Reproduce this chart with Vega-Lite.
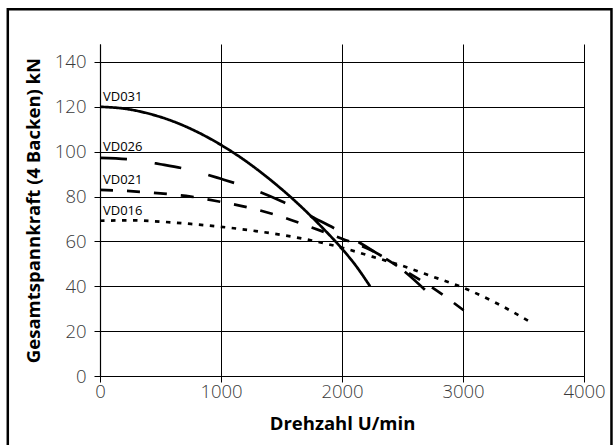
{
  "$schema": "https://vega.github.io/schema/vega-lite/v6.json",
  "width": 484,
  "height": 332,
  "autosize": {"type": "none"},
  "padding": {"left": 100, "top": 44, "right": 31, "bottom": 69},
  "background": "white",
  "config": {"view": {"stroke": null}, "font": "Open Sans"},
  "datasets": {
    "curves": [
      {"series": "VD031", "rpm": 0, "kN": 120},
      {"series": "VD031", "rpm": 200, "kN": 119.2},
      {"series": "VD031", "rpm": 400, "kN": 117},
      {"series": "VD031", "rpm": 600, "kN": 113.6},
      {"series": "VD031", "rpm": 800, "kN": 108.9},
      {"series": "VD031", "rpm": 1000, "kN": 103},
      {"series": "VD031", "rpm": 1200, "kN": 96},
      {"series": "VD031", "rpm": 1400, "kN": 87.8},
      {"series": "VD031", "rpm": 1600, "kN": 78.6},
      {"series": "VD031", "rpm": 1800, "kN": 68.2},
      {"series": "VD031", "rpm": 2000, "kN": 56.7},
      {"series": "VD031", "rpm": 2100, "kN": 50.2},
      {"series": "VD031", "rpm": 2232, "kN": 40},
      {"series": "VD026", "rpm": 0, "kN": 97.2},
      {"series": "VD026", "rpm": 250, "kN": 96.5},
      {"series": "VD026", "rpm": 500, "kN": 94.4},
      {"series": "VD026", "rpm": 750, "kN": 91.8},
      {"series": "VD026", "rpm": 1000, "kN": 87.9},
      {"series": "VD026", "rpm": 1250, "kN": 83.5},
      {"series": "VD026", "rpm": 1500, "kN": 77.9},
      {"series": "VD026", "rpm": 1750, "kN": 71},
      {"series": "VD026", "rpm": 2000, "kN": 64},
      {"series": "VD026", "rpm": 2250, "kN": 56},
      {"series": "VD026", "rpm": 2500, "kN": 47.3},
      {"series": "VD026", "rpm": 2732, "kN": 36},
      {"series": "VD021", "rpm": 0, "kN": 83},
      {"series": "VD021", "rpm": 250, "kN": 82.4},
      {"series": "VD021", "rpm": 500, "kN": 81.4},
      {"series": "VD021", "rpm": 750, "kN": 80},
      {"series": "VD021", "rpm": 1000, "kN": 77.6},
      {"series": "VD021", "rpm": 1250, "kN": 74.8},
      {"series": "VD021", "rpm": 1500, "kN": 71},
      {"series": "VD021", "rpm": 1750, "kN": 66.2},
      {"series": "VD021", "rpm": 2000, "kN": 61.2},
      {"series": "VD021", "rpm": 2250, "kN": 55.8},
      {"series": "VD021", "rpm": 2500, "kN": 47.6},
      {"series": "VD021", "rpm": 2750, "kN": 39.3},
      {"series": "VD021", "rpm": 3005, "kN": 29.3},
      {"series": "VD016", "rpm": 0, "kN": 69.2},
      {"series": "VD016", "rpm": 250, "kN": 69.4},
      {"series": "VD016", "rpm": 500, "kN": 68.8},
      {"series": "VD016", "rpm": 750, "kN": 67.8},
      {"series": "VD016", "rpm": 1000, "kN": 66.5},
      {"series": "VD016", "rpm": 1250, "kN": 64.9},
      {"series": "VD016", "rpm": 1500, "kN": 62.9},
      {"series": "VD016", "rpm": 1750, "kN": 60.4},
      {"series": "VD016", "rpm": 2000, "kN": 57.2},
      {"series": "VD016", "rpm": 2250, "kN": 53.2},
      {"series": "VD016", "rpm": 2500, "kN": 49.1},
      {"series": "VD016", "rpm": 2750, "kN": 44.3},
      {"series": "VD016", "rpm": 3000, "kN": 39.4},
      {"series": "VD016", "rpm": 3250, "kN": 33.2},
      {"series": "VD016", "rpm": 3560, "kN": 24}
    ],
    "labels": [
      {"series": "VD031", "kN": 122.6},
      {"series": "VD026", "kN": 100.1},
      {"series": "VD021", "kN": 85.8},
      {"series": "VD016", "kN": 71.7}
    ],
    "frame": [
      {"name": "frame"}
    ]
  },
  "layer": [
    {
      "data": {"name": "curves"},
      "mark": {"type": "line", "color": "black", "strokeWidth": 2.7, "strokeCap": "butt", "interpolate": "monotone", "clip": false},
      "encoding": {
        "x": {
          "field": "rpm", "type": "quantitative",
          "scale": {"domain": [0, 4000], "nice": false, "zero": false},
          "axis": {
            "title": "Drehzahl U/min",
            "values": [0, 1000, 2000, 3000, 4000],
            "format": "d",
            "grid": true, "gridColor": "black", "gridWidth": 1, "gridOpacity": 1,
            "domain": true, "domainColor": "black", "domainWidth": 1.2,
            "ticks": true, "tickSize": 6, "tickColor": "black", "tickWidth": 1,
            "labelFont": "Open Sans", "labelFontWeight": 300, "labelFontSize": 18.5, "labelColor": "#3a3a3a",
            "labelPadding": 0, "labelFlush": false, "labelBaseline": "top",
            "encode": {"labels": {"update": {"align": {"signal": "datum.value == 0 ? 'center' : 'right'"}}}},
            "titleFont": "Open Sans", "titleFontWeight": "bold", "titleFontSize": 18.5, "titleColor": "black",
            "titleX": 242, "titleY": 53, "titleBaseline": "alphabetic", "titleAlign": "center", "titleAnchor": null
          }
        },
        "y": {
          "field": "kN", "type": "quantitative",
          "scale": {"domain": [0, 148], "nice": false},
          "axis": {
            "title": "Gesamtspannkraft (4 Backen) kN",
            "values": [0, 20, 40, 60, 80, 100, 120, 140],
            "grid": true, "gridColor": "black", "gridWidth": 1, "gridOpacity": 1,
            "domain": true, "domainColor": "black", "domainWidth": 1.2,
            "ticks": true, "tickSize": 6, "tickColor": "black", "tickWidth": 1,
            "labelFont": "Open Sans", "labelFontWeight": 300, "labelFontSize": 18.5, "labelColor": "#3a3a3a",
            "labelPadding": 8, "labelAlign": "right", "labelBaseline": "middle",
            "titleFont": "Open Sans", "titleFontWeight": "bold", "titleFontSize": 18.5, "titleColor": "black",
            "titleX": -61, "titleY": 166, "titleAngle": -90, "titleBaseline": "alphabetic", "titleAlign": "center", "titleAnchor": null
          }
        },
        "strokeDash": {
          "field": "series", "type": "nominal",
          "scale": {"domain": ["VD031", "VD026", "VD021", "VD016"], "range": [[1, 0], [27, 28], [13, 14], [4.5, 6.5]]},
          "legend": null
        }
      }
    },
    {
      "data": {"name": "labels"},
      "mark": {"type": "text", "align": "left", "baseline": "alphabetic", "dx": 3, "fontSize": 13, "font": "Open Sans", "color": "black"},
      "encoding": {
        "x": {"datum": 0, "type": "quantitative"},
        "y": {"field": "kN", "type": "quantitative"},
        "text": {"field": "series", "type": "nominal"}
      }
    },
    {
      "data": {"name": "frame"},
      "mark": {"type": "rect", "fill": "transparent", "stroke": "black", "strokeWidth": 2.5, "clip": false},
      "encoding": {
        "x": {"datum": -762, "type": "quantitative"},
        "x2": {"datum": 4227},
        "y": {"datum": 163.5, "type": "quantitative"},
        "y2": {"datum": -40}
      }
    }
  ]
}
